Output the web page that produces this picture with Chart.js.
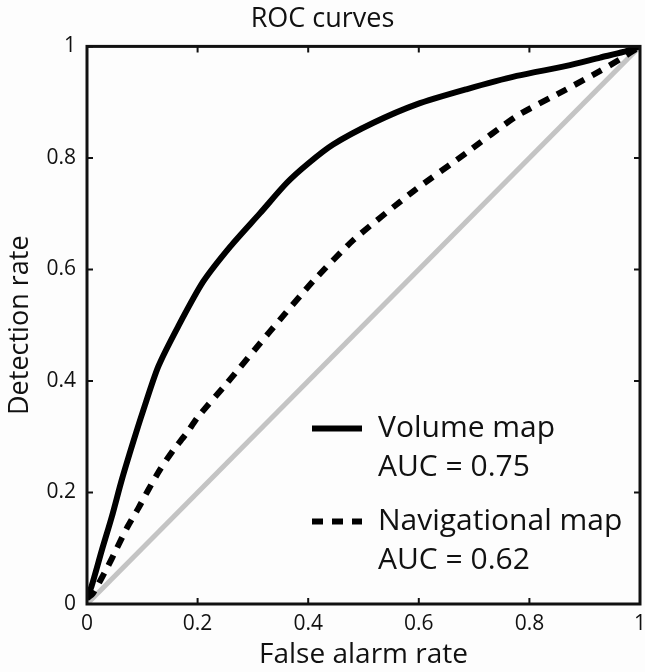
<!DOCTYPE html>
<html>
<head>
<meta charset="utf-8">
<script src="https://cdn.jsdelivr.net/npm/chart.js"></script>
<style>
  html, body { margin: 0; padding: 0; background: #fdfdfd; }
  #wrap { width: 645px; height: 672px; }
</style>
</head>
<body>
<div id="wrap"><canvas id="roc"></canvas></div>
<script>
// values
const volumeFpr = [0, 0.008, 0.027, 0.045, 0.063, 0.084, 0.101, 0.129, 0.165, 0.21, 0.259, 0.313, 0.361, 0.40, 0.445, 0.518, 0.596, 0.686, 0.777, 0.867, 0.928, 0.97, 1];
const volumeTpr = [0.01, 0.031, 0.097, 0.157, 0.223, 0.292, 0.345, 0.426, 0.498, 0.578, 0.641, 0.701, 0.755, 0.79, 0.824, 0.863, 0.896, 0.923, 0.947, 0.965, 0.98, 0.99, 1];
const navFpr = [0, 0.01, 0.036, 0.054, 0.072, 0.093, 0.111, 0.132, 0.156, 0.18, 0.201, 0.253, 0.331, 0.409, 0.482, 0.59, 0.686, 0.777, 0.867, 0.928, 0.964, 1];
const navTpr = [0.01, 0.018, 0.064, 0.1, 0.136, 0.172, 0.205, 0.241, 0.276, 0.306, 0.336, 0.396, 0.489, 0.579, 0.653, 0.740, 0.809, 0.875, 0.923, 0.956, 0.977, 1];
const chanceFpr = [0, 1];
const chanceTpr = [0, 1];
const seriesNames = ['Volume map', 'Navigational map'];
const aucLabels = ['AUC = 0.75', 'AUC = 0.62'];
const tickValues = [0, 0.2, 0.4, 0.6, 0.8, 1];

const FONT = "'Open Sans', sans-serif";

const pts = (xs, ys) => xs.map((x, i) => ({ x: x, y: ys[i] }));
const fmt = v => String(Math.round(v * 10) / 10);

// box around the axes plus inward ticks on all four sides (matlab style)
const boxPlugin = {
  id: 'box',
  afterDatasetsDraw(chart) {
    const { ctx, chartArea: a, scales } = chart;
    ctx.save();
    ctx.strokeStyle = '#111';
    ctx.lineWidth = 2;
    tickValues.forEach(v => {
      const px = scales.x.getPixelForValue(v);
      const py = scales.y.getPixelForValue(v);
      ctx.beginPath();
      ctx.moveTo(px, a.bottom); ctx.lineTo(px, a.bottom - 6);
      ctx.moveTo(px, a.top); ctx.lineTo(px, a.top + 6);
      ctx.moveTo(a.left, py); ctx.lineTo(a.left + 6, py);
      ctx.moveTo(a.right, py); ctx.lineTo(a.right - 6, py);
      ctx.stroke();
    });
    ctx.lineWidth = 3;
    ctx.strokeRect(a.left, a.top, a.right - a.left, a.bottom - a.top);
    ctx.restore();
  }
};

// legend inside the axes, lower right
const legendPlugin = {
  id: 'innerLegend',
  afterDraw(chart) {
    const { ctx, chartArea: a } = chart;
    const x0 = a.left + 225, x1 = a.left + 275, tx = a.left + 291;
    const rows = [a.top + 382, a.top + 475];
    ctx.save();
    ctx.fillStyle = '#111';
    ctx.font = '30px ' + FONT;
    ctx.textBaseline = 'middle';
    rows.forEach((y, i) => {
      const ds = chart.data.datasets[i];
      ctx.strokeStyle = '#000';
      ctx.lineWidth = 6;
      ctx.setLineDash(ds.borderDash || []);
      ctx.beginPath();
      ctx.moveTo(x0, y); ctx.lineTo(x1, y);
      ctx.stroke();
      ctx.setLineDash([]);
      ctx.fillText(seriesNames[i], tx, y);
      ctx.fillText(aucLabels[i], tx, y + 39);
    });
    ctx.restore();
  }
};

new Chart(document.getElementById('roc'), {
  type: 'scatter',
  data: {
    datasets: [
      {
        label: seriesNames[0],
        data: pts(volumeFpr, volumeTpr),
        showLine: true,
        borderColor: '#000',
        borderWidth: 6,
        pointRadius: 0,
        tension: 0.25,
        order: 1
      },
      {
        label: seriesNames[1],
        data: pts(navFpr, navTpr),
        showLine: true,
        borderColor: '#000',
        borderWidth: 6,
        borderDash: [11, 9],
        pointRadius: 0,
        tension: 0.2,
        order: 2
      },
      {
        label: 'chance',
        data: pts(chanceFpr, chanceTpr),
        showLine: true,
        borderColor: '#c4c4c4',
        borderWidth: 5,
        pointRadius: 0,
        order: 3
      }
    ]
  },
  options: {
    responsive: true,
    maintainAspectRatio: false,
    animation: false,
    layout: { padding: { left: 0, right: 0, top: 0, bottom: 0 } },
    plugins: {
      legend: { display: false },
      tooltip: { enabled: false },
      title: {
        display: true,
        text: 'ROC curves',
        color: '#111',
        font: { family: FONT, size: 27, weight: 'normal' },
        padding: { top: 3, bottom: 11 }
      }
    },
    scales: {
      x: {
        type: 'linear',
        min: 0, max: 1,
        afterBuildTicks(s) { s.ticks = tickValues.map(v => ({ value: v })); },
        afterFit(s) { s.height = 68; s.paddingRight = 5; },
        grid: { display: false, drawTicks: false },
        border: { display: false },
        ticks: { color: '#111', padding: 7, callback: fmt, font: { family: FONT, size: 21 } },
        title: {
          display: true,
          text: 'False alarm rate',
          color: '#111',
          font: { family: FONT, size: 28 },
          padding: { top: 0, bottom: 0 }
        }
      },
      y: {
        type: 'linear',
        min: 0, max: 1,
        afterBuildTicks(s) { s.ticks = tickValues.map(v => ({ value: v })); },
        afterFit(s) { s.width = 87; },
        grid: { display: false, drawTicks: false },
        border: { display: false },
        ticks: { color: '#111', padding: 11, callback: fmt, font: { family: FONT, size: 21 } },
        title: {
          display: true,
          text: 'Detection rate',
          color: '#111',
          font: { family: FONT, size: 27 },
          padding: { top: 4, bottom: 0 }
        }
      }
    }
  },
  plugins: [boxPlugin, legendPlugin]
});
</script>
</body>
</html>
